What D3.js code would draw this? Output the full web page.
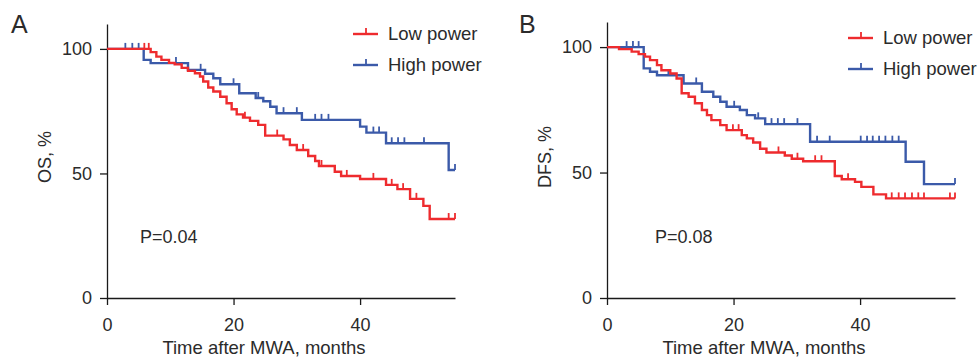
<!DOCTYPE html>
<html>
<head>
<meta charset="utf-8">
<script src="https://cdn.jsdelivr.net/npm/d3@7"></script>
<style>
  body { margin: 0; background: #fff; }
  svg text { font-family: "Liberation Sans", Arial, Helvetica, sans-serif; fill: #2b2b2b; }
</style>
</head>
<body>
<div id="canvas"></div>
<script>
// OS, low power
const osLowT = [0, 6.9, 7.8, 8.6, 9.8, 10.7, 11.8, 12.8, 13.9, 14.7, 15.2, 16, 16.8, 17.9, 18.9, 19.7, 20.5, 21.5, 22.6, 23.9, 25, 27.9, 28.9, 30, 31.8, 32.9, 33.5, 36, 37, 40, 44.1, 45.9, 47.9, 50, 51];
const osLowS = [100, 98.7, 96.9, 95.6, 94.4, 93.8, 92.4, 91.2, 90.2, 88.9, 86.9, 84.5, 82.9, 80.8, 78.2, 75.8, 73.7, 72.4, 71.1, 69.5, 65.2, 63.7, 61.4, 59.4, 57, 55, 53, 50.7, 49, 47.8, 45.4, 43.7, 39.8, 37, 31.7];
const osLowCens = [5.9, 6.6, 21.8, 26.9, 31, 33.9, 37.9, 42.1, 45, 46.8, 48.9, 54, 55];
// OS, high power
const osHighT = [0, 5.8, 6.9, 12.8, 15.5, 16.8, 17.9, 20.9, 23.5, 24.7, 25.8, 26.8, 30.8, 40, 41, 44.1, 54];
const osHighS = [100, 95.6, 94.3, 91.6, 90, 88.2, 85.8, 82.2, 80.3, 79, 76.8, 74.2, 71.5, 68.8, 66.4, 62.1, 51.4];
const osHighCens = [2.9, 4, 5, 10.9, 14.8, 20, 23.9, 27.9, 30, 32.9, 33.9, 35, 42.1, 43, 45, 46, 47, 50.1, 55];
// DFS, low power
const dfsLowT = [0, 1.9, 3.9, 5, 6, 6.8, 7.9, 8.6, 10, 11, 11.8, 12.9, 13.9, 15, 15.8, 16.5, 17.9, 18.9, 21.3, 22.1, 23.1, 24.2, 25.2, 28.1, 29.2, 31, 36, 37.1, 39.2, 40.2, 42.1, 44.1];
const dfsLowS = [100, 99.2, 98.2, 97.2, 96.2, 94.8, 92.8, 90.8, 89.5, 87.5, 81.6, 80.2, 77.6, 74.9, 72.9, 70.9, 68.9, 66.9, 64.9, 63.6, 62, 59.5, 58, 56.8, 55.5, 54.5, 48.6, 47.3, 46.3, 44.3, 41.3, 39.7];
const dfsLowCens = [19.9, 20.8, 27.1, 30.1, 32.9, 33.9, 38.1, 45, 46.1, 47.1, 48.2, 49.2, 50.1, 54.2, 55];
// DFS, high power
const dfsHighT = [0, 5.8, 6.8, 7.9, 12.1, 15, 16.8, 17.9, 18.9, 21, 22.1, 23.4, 25, 32.1, 47.2, 50.1];
const dfsHighS = [100, 91.5, 90.2, 88.8, 85.5, 82.2, 80.2, 78.2, 76.2, 74.9, 72.9, 71.6, 69.3, 62.3, 54.3, 45.4];
const dfsHighCens = [3.1, 4.1, 5, 9.7, 14.1, 20.1, 23.9, 26, 27, 28, 30.1, 33.2, 35.2, 40.1, 41.1, 42, 43, 44, 45.1, 46.1, 55];

const groups = ['Low power', 'High power'];
const xTicks = [0, 20, 40];
const yTicks = [0, 50, 100];
const tEnd = 55;

const red = '#ee2b2e', blue = '#3b5aa9';

const W = 979, H = 358;
const svg = d3.select('#canvas').append('svg')
  .attr('width', W)
  .attr('height', H);

const panel = (opt) => {
  const x = d3.scaleLinear().domain([0, tEnd]).range([opt.left, opt.left + 348]);
  const y = d3.scaleLinear().domain([0, 110]).range([298, opt.top]);
  const g = svg.append('g');

  const xAxis = d3.axisBottom(x).tickValues(xTicks).tickSize(7).tickPadding(13).tickSizeOuter(0);
  const yAxis = d3.axisLeft(y).tickValues(yTicks).tickSize(7).tickPadding(8).tickSizeOuter(0);

  const gx = g.append('g').attr('transform', 'translate(0,298)').call(xAxis);
  const gy = g.append('g').attr('transform', `translate(${opt.left},0)`).call(yAxis);
  [gx, gy].forEach(a => {
    a.select('.domain').attr('stroke', '#1a1a1a').attr('stroke-width', 1.3);
    a.selectAll('.tick line').attr('stroke', '#1a1a1a').attr('stroke-width', 1.3);
    a.selectAll('.tick text').attr('font-size', '18px').attr('fill', '#2b2b2b')
      .style('font-family', '"Liberation Sans", Arial, sans-serif');
  });

  const line = d3.line()
    .x(d => x(d[0]))
    .y(d => y(d[1]))
    .curve(d3.curveStepAfter);

  // high power drawn first so that low power sits on top where they overlap
  opt.series.slice().reverse().forEach(s => {
    const pts = s.t.map((t, i) => [t, s.s[i]]);
    pts.push([tEnd, s.s[s.s.length - 1]]);
    g.append('path')
      .attr('d', line(pts))
      .attr('fill', 'none')
      .attr('stroke', s.color)
      .attr('stroke-width', 2.4);
    // censor marks
    g.selectAll(null)
      .data(s.cens)
      .enter()
      .append('line')
      .attr('x1', c => x(c))
      .attr('x2', c => x(c))
      .attr('y1', c => y(s.s[d3.bisectRight(s.t, c) - 1]))
      .attr('y2', c => y(s.s[d3.bisectRight(s.t, c) - 1]) - 6)
      .attr('stroke', s.color)
      .attr('stroke-width', 1.8);
  });

  g.append('text').text(opt.letter)
    .attr('x', opt.letterX).attr('y', 33)
    .attr('font-size', '25px').attr('fill', '#111');

  g.append('text').text(opt.yTitle)
    .attr('transform', `translate(${opt.left - 56},157) rotate(-90)`)
    .attr('text-anchor', 'middle')
    .attr('font-size', '18px');

  g.append('text').text('Time after MWA, months')
    .attr('x', opt.left + 157).attr('y', 354)
    .attr('text-anchor', 'middle')
    .attr('font-size', '18.5px');

  g.append('text').text(opt.p)
    .attr('x', opt.pX).attr('y', 243)
    .attr('font-size', '18px');

  // legend
  opt.series.forEach((s, i) => {
    const ly = opt.legY + i * 31;
    g.append('line')
      .attr('x1', opt.legX).attr('x2', opt.legX + 25)
      .attr('y1', ly).attr('y2', ly)
      .attr('stroke', s.color).attr('stroke-width', 2.4);
    g.append('line')
      .attr('x1', opt.legX + 13).attr('x2', opt.legX + 13)
      .attr('y1', ly).attr('y2', ly - 6)
      .attr('stroke', s.color).attr('stroke-width', 1.8);
    g.append('text').text(groups[i])
      .attr('x', opt.legX + 35).attr('y', ly + 6)
      .attr('font-size', '18.5px');
  });
};

panel({
  left: 107, top: 24, letter: 'A', letterX: 11, yTitle: 'OS, %', p: 'P=0.04', pX: 140,
  legX: 353, legY: 34,
  series: [
    {t: osLowT, s: osLowS, cens: osLowCens, color: red},
    {t: osHighT, s: osHighS, cens: osHighCens, color: blue}
  ]
});

panel({
  left: 607, top: 22, letter: 'B', letterX: 519, yTitle: 'DFS, %', p: 'P=0.08', pX: 655,
  legX: 848, legY: 38,
  series: [
    {t: dfsLowT, s: dfsLowS, cens: dfsLowCens, color: red},
    {t: dfsHighT, s: dfsHighS, cens: dfsHighCens, color: blue}
  ]
});
</script>
</body>
</html>
